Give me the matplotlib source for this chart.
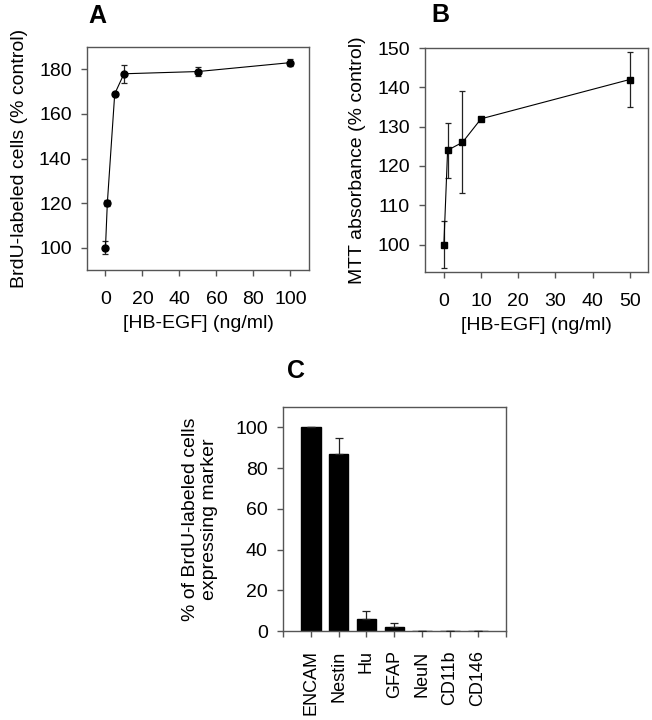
import matplotlib
matplotlib.use('Agg')
import matplotlib.pyplot as plt

plt.rcParams['font.family'] = ['Liberation Sans', 'DejaVu Sans']

# panel A
dose_a = [0, 1, 5, 10, 50, 100]
brdu = [100, 120, 169, 178, 179, 183]
brdu_err = [3, 1.5, 1, 4, 2, 1.5]

# panel B
dose_b = [0, 1, 5, 10, 50]
mtt = [100, 124, 126, 132, 142]
mtt_err = [6, 7, 13, 0.5, 7]

# panel C
markers = ['ENCAM', 'Nestin', 'Hu', 'GFAP', 'NeuN', 'CD11b', 'CD146']
pct = [100, 87, 6, 2, 0, 0, 0]
pct_err = [0, 8, 4, 2, 0, 0, 0]

fig = plt.figure(figsize=(6.52, 7.2), dpi=100)
axA = fig.add_axes([0.1334, 0.625, 0.3405, 0.3097])
axB = fig.add_axes([0.6523, 0.6222, 0.342, 0.311])
axC = fig.add_axes([0.434, 0.1236, 0.3416, 0.311])

spine_c = '#555555'
fs = 14

def style(ax, xpad=11, ypad=7):
    for s in ax.spines.values():
        s.set_color(spine_c)
        s.set_linewidth(1.0)
    ax.tick_params(direction='out', length=4, width=1, color=spine_c,
                   labelsize=fs)
    ax.tick_params(axis='x', pad=xpad)
    ax.tick_params(axis='y', pad=ypad)

axA.errorbar(dose_a, brdu, yerr=brdu_err, fmt='o', ms=5, color='black',
             ecolor='#222222', elinewidth=0.9, capsize=2, capthick=0.9,
             ls='-', lw=0.8, zorder=3)
axA.set_xlim(-10, 110)
axA.set_ylim(90, 190)
axA.set_xticks([0, 20, 40, 60, 80, 100])
axA.set_yticks([100, 120, 140, 160, 180])
axA.set_xlabel('[HB-EGF] (ng/ml)', fontsize=fs, labelpad=5)
axA.set_ylabel('BrdU-labeled cells (% control)', fontsize=fs, labelpad=8)
style(axA)

axB.errorbar(dose_b, mtt, yerr=mtt_err, fmt='s', ms=4.5, color='black',
             ecolor='#222222', elinewidth=0.9, capsize=2.2, capthick=0.9,
             ls='-', lw=0.8, zorder=3)
axB.set_xlim(-5, 55)
axB.set_ylim(93, 150)
axB.set_xticks([0, 10, 20, 30, 40, 50])
axB.set_yticks([100, 110, 120, 130, 140, 150])
axB.set_xlabel('[HB-EGF] (ng/ml)', fontsize=fs, labelpad=5)
axB.set_ylabel('MTT absorbance (% control)', fontsize=fs, labelpad=8)
style(axB)

pos = list(range(len(markers)))
axC.bar(pos, pct, width=0.7, color='black', edgecolor='black', zorder=2)
axC.errorbar(pos, pct, yerr=[[0] * len(pct), pct_err], fmt='none',
             ecolor='#222222', elinewidth=0.9, capsize=3, capthick=0.9, zorder=3)
axC.set_xlim(-1, len(markers))
axC.set_ylim(0, 110)
axC.set_xticks(list(range(-1, len(markers) + 1)))
axC.set_yticks([0, 20, 40, 60, 80, 100])
axC.set_ylabel('% of BrdU-labeled cells\nexpressing marker', fontsize=fs, labelpad=12)
style(axC, xpad=10)
axC.set_xticklabels([''] + markers + [''], rotation=90, fontsize=13)

fig.text(0.1495, 0.978, 'A', fontsize=18, fontweight='bold', ha='center', va='center')
fig.text(0.675, 0.979, 'B', fontsize=18, fontweight='bold', ha='center', va='center')
fig.text(0.454, 0.485, 'C', fontsize=18, fontweight='bold', ha='center', va='center')

fig.savefig('out.png', dpi=100)
